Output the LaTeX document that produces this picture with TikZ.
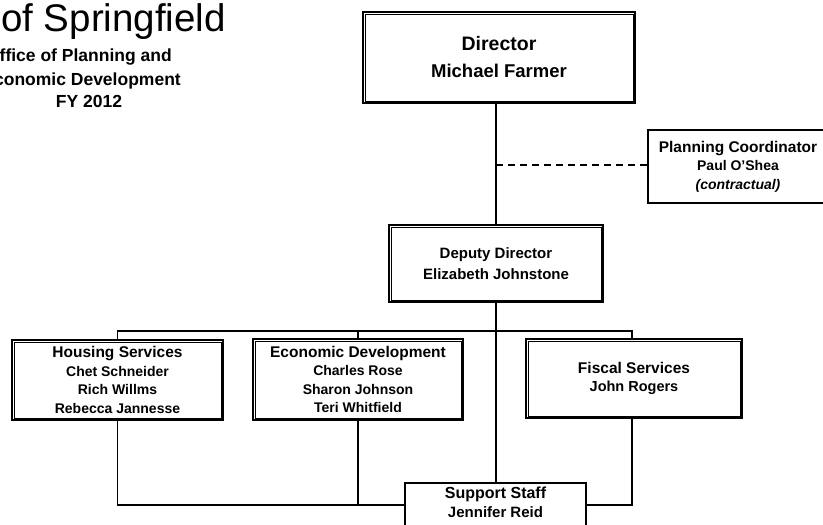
\documentclass[tikz,border=0pt]{standalone}
\usepackage{fontspec}
\setmainfont{Liberation Sans}
\newcommand{\unittitle}[1]{{\fontsize{15.5}{18.5}\selectfont #1}}
\begin{document}
\begin{tikzpicture}[x=1pt,y=-1pt,
  unit/.style={draw, line width=2.2pt, align=center, inner sep=0pt,
    font=\bfseries\fontsize{14}{18.5}\selectfont},
  plain/.style={draw, line width=1.6pt, align=center, inner sep=0pt,
    font=\bfseries\fontsize{14}{18.5}\selectfont},
  conn/.style={line width=1.8pt},
  dotted link/.style={line width=1.8pt, dash pattern=on 7pt off 5pt},
  heading/.style={inner sep=0pt, font=\bfseries\fontsize{17.5}{20}\selectfont}]
\useasboundingbox (0,0) rectangle (823,525);
\clip (0,0) rectangle (823,525);

% title block
\node[anchor=base west, inner sep=0pt, font=\fontsize{38.5}{42}\selectfont] (city) at (1,31) {of Springfield};
\node[heading, anchor=east] (office) at (172,57) {Office of Planning and};
\node[heading, anchor=east] (econdev) at (181,81) {Economic Development};
\node[heading] (fy) at (89,101) {FY 2012};

% units
\node[unit, minimum width=272, minimum height=91,
  font=\bfseries\fontsize{18.5}{27}\selectfont] (dir) at (499,57.5)
  {{\fontsize{19.5}{27}\selectfont Director}\\Michael Farmer};
\node[plain, line width=2.2pt, minimum width=180, minimum height=73] (plan) at (738,166.5)
  {\unittitle{Planning Coordinator}\\Paul O'Shea\\\textit{(contractual)}};
\node[unit, minimum width=214, minimum height=77,
  font=\bfseries\fontsize{15}{21}\selectfont] (dep) at (496,263.5) {Deputy Director\\Elizabeth Johnstone};
\node[unit, minimum width=211, minimum height=80] (hous) at (117.5,380)
  {\unittitle{Housing Services}\\Chet Schneider\\Rich Willms\\Rebecca Jannesse};
\node[unit, minimum width=210, minimum height=81] (econ) at (358,379.5)
  {\unittitle{Economic Development}\\Charles Rose\\Sharon Johnson\\Teri Whitfield};
\node[unit, minimum width=216, minimum height=79] (fisc) at (634,378.5)
  {\unittitle{Fiscal Services}\\{\fontsize{14.5}{18.5}\selectfont John Rogers}};
\node[plain, minimum width=181, minimum height=60, anchor=north] (sup) at (495.5,482) {};
\node[inner sep=0pt, align=center, font=\bfseries\fontsize{15}{19}\selectfont] (suptext) at (495.5,502.5)
  {{\fontsize{16}{19}\selectfont Support Staff}\\Jennifer Reid};

% inner rule of the double-framed units
\foreach \n in {dir,dep,hous,econ,fisc}
  \draw[line width=0.8pt] ([shift={(3.2pt,-3.2pt)}]\n.north west) rectangle ([shift={(-3.2pt,3.2pt)}]\n.south east);

% reporting lines
\coordinate (bus) at (0,331);
\coordinate (low) at (0,505);
\coordinate (dashy) at (0,165);
\draw[conn, line width=2.2pt] (dep.north) -- (dep.north |- dir.south);
\draw[dotted link] (dep.north |- dashy) -- (plan.west |- dashy);
\draw[conn] (dep.south) -- (dep.south |- sup.north);
\draw[conn] (hous.north) |- ([xshift=-2pt]fisc.north |- bus) -- ([xshift=-2pt]fisc.north);
\draw[conn] (econ.north) -- (econ.north |- bus);
\draw[conn] (hous.south) |- (sup.west |- low);
\draw[conn] (econ.south) -- (econ.south |- low);
\draw[conn] ([xshift=-2pt]fisc.south) |- (sup.east |- low);
\end{tikzpicture}
\end{document}
